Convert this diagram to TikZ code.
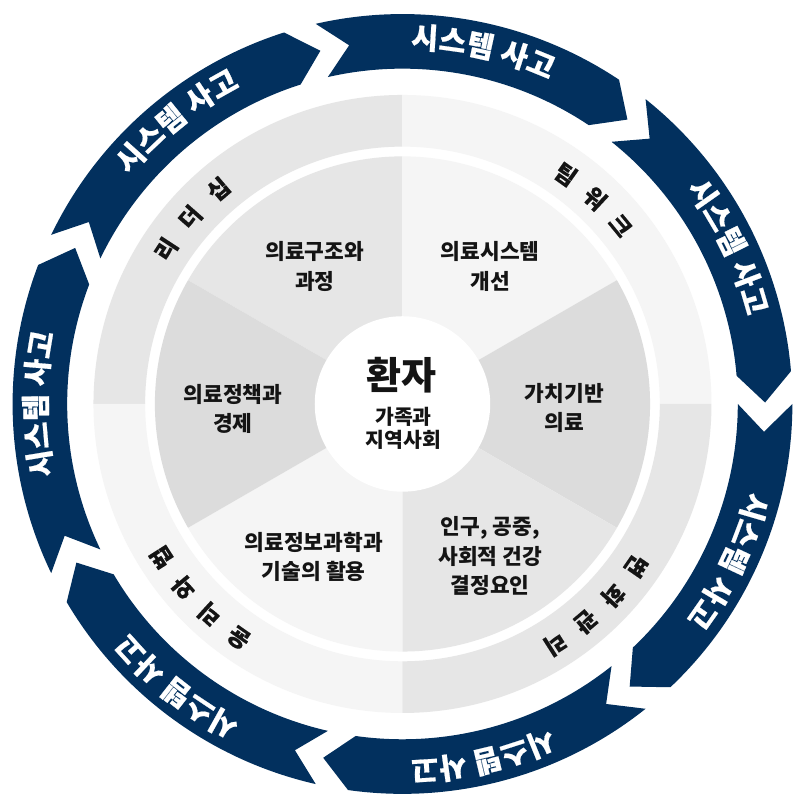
\documentclass[tikz,border=0pt]{standalone}
\usepackage{fontspec}
\setmainfont{Noto Sans CJK KR}
\newfontfamily\heavykr{Noto Sans CJK KR}[FakeBold=0.6]
\newfontfamily\midkr{Noto Sans CJK KR}[FakeBold=0.3]
\definecolor{navy}{HTML}{02305E}
\definecolor{gA}{HTML}{F5F5F5}
\definecolor{gB}{HTML}{E6E6E6}
\definecolor{gC}{HTML}{DCDCDC}
\definecolor{ink}{HTML}{141414}
\tikzset{
  arrowtxt/.style={text=white, inner sep=0pt, anchor=center, text height=0.76em, text depth=0pt,
    font=\heavykr\bfseries\fontsize{30}{30}\selectfont},
  ringtxt/.style={text=ink, inner sep=0pt, anchor=center, text height=0.76em, text depth=0pt,
    font=\midkr\bfseries\fontsize{23.5}{23.5}\selectfont},
  wedgetxt/.style={text=ink, inner sep=0pt, anchor=center, align=center,
    font=\bfseries\fontsize{22}{30}\selectfont},
}
\begin{document}
\begin{tikzpicture}
\fill[white] (-402pt,-403pt) rectangle (403pt,402pt);
% outer arrows
\foreach \k in {1,...,7}{
  \pgfmathsetmacro\T{\k*360/7}
  \pgfmathsetmacro\H{\T-46.6}
  \pgfmathsetmacro\P{\T-51.2}
  \pgfmathsetmacro\N{\T-4.4}
  \fill[navy] (\T:400pt) arc[start angle=\T,end angle=\H,radius=400pt] -- (\P:372pt) -- (\H:344pt)
     arc[start angle=\H,end angle=\T,radius=344pt] -- (\N:372pt) -- cycle;
  \pgfmathsetmacro\C{\T-25.7}
  \foreach \ch/\off [count=\i] in {시/9.35,스/4.95,템/0.55,사/-4.95,고/-9.35}{
    \pgfmathsetmacro\A{\C+\off}
    \node[arrowtxt,rotate=\A-90] (s\k-\i) at (\A:369pt) {\ch};
  }
}
% label ring
\foreach \a/\b/\c in {90/180/gB, 0/90/gA, 180/270/gA, 270/360/gB}{
  \fill[\c] (\a:317pt) arc[start angle=\a,end angle=\b,radius=317pt] -- (\b:264pt)
     arc[start angle=\b,end angle=\a,radius=264pt] -- cycle;
}
% wedges
\foreach \a/\b/\c in {90/150/gB, 30/90/gA, -30/30/gC, 270/330/gB, 210/270/gA, 150/210/gC}{
  \fill[\c] (0,0) -- (\a:254pt) arc[start angle=\a,end angle=\b,radius=254pt] -- cycle;
}
\fill[white] (0,0) circle[radius=90pt];
% ring labels
\foreach \ch/\A [count=\i] in {리/146.8,더/138.7,십/130.6}{
  \node[ringtxt,rotate=\A-90] (r1-\i) at (\A:285pt) {\ch};
}
\foreach \ch/\A [count=\i] in {팀/54.6,워/46.9,크/39.3}{
  \node[ringtxt,rotate=\A-90] (r2-\i) at (\A:284pt) {\ch};
}
\foreach \ch/\A [count=\i] in {변/-34.7,화/-42.3,관/-49.9,리/-57.5}{
  \node[ringtxt,rotate=\A-90] (r3-\i) at (\A:287pt) {\ch};
}
\foreach \ch/\A [count=\i] in {윤/235,리/227.5,와/220,법/212.5}{
  \node[ringtxt,rotate=\A-90] (r4-\i) at (\A:288pt) {\ch};
}
% wedge labels
\node[wedgetxt] (w1) at (-90pt,141pt) {의료구조와\\과정};
\node[wedgetxt] (w2) at (90pt,141pt) {의료시스템\\개선};
\node[wedgetxt] (w3) at (166pt,-4pt) {가치기반\\의료};
\node[wedgetxt] (w4) at (90pt,-156pt) {인구, 공중,\\사회적 건강\\결정요인};
\node[wedgetxt] (w5) at (-91pt,-157pt) {의료정보과학과\\기술의 활용};
\node[wedgetxt] (w6) at (-174pt,-5pt) {의료정책과\\경제};
% centre
\node[text=ink, inner sep=0pt, font=\bfseries\fontsize{39}{39}\selectfont] (pat) at (-1pt,30pt) {환자};
\node[text=ink, inner sep=0pt, align=center, font=\bfseries\fontsize{21}{24}\selectfont] (fam) at (1pt,-25pt) {가족과\\지역사회};
\end{tikzpicture}
\end{document}
